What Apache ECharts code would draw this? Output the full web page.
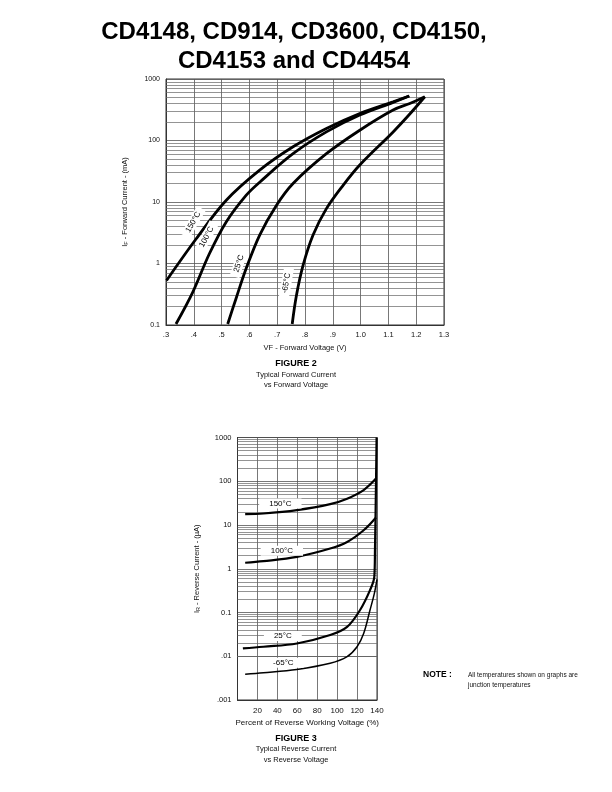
<!DOCTYPE html>
<html><head><meta charset="utf-8">
<script src="https://cdn.jsdelivr.net/npm/echarts@6/dist/echarts.min.js"></script>
<style>html,body{margin:0;padding:0;background:#fff}#c{width:612px;height:792px}</style>
</head><body><div id="c"></div>
<script>
// ---------- Figure 2 : forward current vs forward voltage ----------
const fwdXTicks = ['.3','.4','.5','.6','.7','.8','.9','1.0','1.1','1.2','1.3'];
const fwdYTicks = ['0.1','1','10','100','1000'];
const fwdDecades = [0.1, 1, 10, 100];
const fwd150 = [[0.302,0.53],[0.408,2.5],[0.516,10.6],[0.637,33],[0.757,79],[0.877,157],[0.997,275],[1.117,427],[1.175,530]];
const fwd100 = [[0.336,0.104],[0.396,0.34],[0.456,1.44],[0.516,4.7],[0.588,12.8],[0.637,21],[0.757,61],[0.877,138],[0.997,259],[1.117,417],[1.175,530]];
const fwd25  = [[0.522,0.104],[0.552,0.27],[0.588,0.82],[0.637,2.9],[0.697,8.8],[0.757,20],[0.877,61],[0.997,147],[1.117,313],[1.177,400],[1.231,515]];
const fwdM65 = [[0.754,0.104],[0.769,0.30],[0.793,0.93],[0.829,2.9],[0.877,7.8],[0.937,18.7],[0.997,40],[1.117,138],[1.177,270],[1.231,515]];
const fwdLabels = [['150\u00B0C',0.398,4.7,60],['100\u00B0C',0.446,2.7,62],['25\u00B0C',0.562,1.0,72],['-65\u00B0C',0.733,0.48,80]];

// ---------- Figure 3 : reverse current vs reverse voltage ----------
const revXTicks = ['','20','40','60','80','100','120','140'];
const revYTicks = ['.001','.01','0.1','1','10','100','1000'];
const revDecades = [0.001, 0.01, 0.1, 1, 10, 100];
const rev150 = [[7.7,17.7],[26,18.3],[59.6,21.9],[93,30],[110,40],[126.6,63],[139,115]];
const rev100 = [[7.7,1.37],[26,1.49],[59.6,1.87],[93,2.9],[110,4.1],[126.6,7.6],[139,14.9]];
const rev25  = [[5.4,0.0151],[26,0.0165],[59.6,0.0196],[93,0.0305],[110,0.047],[123,0.114],[133,0.325],[137.3,0.65],[138,3],[138.7,30],[139.3,300],[139.6,1000]];
const revM65 = [[7.7,0.0039],[26,0.0042],[59.6,0.005],[93,0.0069],[110,0.0098],[120,0.0165],[126.6,0.033],[133,0.114],[137.3,0.27],[140,0.57]];
const revLabels = [['150\u00B0C',43,31],['100\u00B0C',44.5,2.57],['25\u00B0C',45.5,0.0289],['-65\u00B0C',46,0.0071]];

const FONT = '"Liberation Sans", Arial, sans-serif';
function minors(decades){ const out=[]; decades.forEach(d=>{ for(let k=2;k<=9;k++) out.push({yAxis: +(d*k).toPrecision(3)}); }); return out; }
function decadeLabel(ticks, minExp){ return v => { const i = Math.round(Math.log10(v)) - minExp; return ticks[i] !== undefined ? ticks[i] : ''; }; }

const chart = echarts.init(document.getElementById('c'), null, {renderer:'canvas'});
const gridLineStyle = {color:'#555', width:0.8};
const markGrid = (decades) => ({silent:true, symbol:'none', animation:false, label:{show:false}, lineStyle:{color:'#666', width:0.7, type:'solid'}, emphasis:{disabled:true}, data: minors(decades)});

function curve(name, data, xi, width, withGrid, decades){
  const s = {name, type:'line', xAxisIndex:xi, yAxisIndex:xi, data, smooth:0.35, showSymbol:false, symbol:'none', animation:false, silent:true, z:5,
    lineStyle:{color:'#000', width}};
  if (withGrid) s.markLine = markGrid(decades);
  return s;
}
function labelSeries(xi, items, fontSize){
  return {type:'scatter', xAxisIndex:xi, yAxisIndex:xi, symbolSize:0, animation:false, silent:true, z:10,
    itemStyle:{opacity:1},
    data: items.map(it => ({value:[it[1], it[2]], label:{show:true, position:'inside', formatter: it[0], rotate: it[3]||0,
      backgroundColor:'#fff', padding: xi===0 ? [1,5] : [1,10], color:'#000', fontSize, fontFamily: FONT}}))};
}

const option = {
  backgroundColor:'#fff',
  animation:false,
  textStyle:{fontFamily: FONT},
  grid:[
    {left:166, top:79, width:278, height:246, show:true, borderColor:'#333', borderWidth:1, backgroundColor:'transparent'},
    {left:237.5, top:437.5, width:139.5, height:262.5, show:true, borderColor:'#333', borderWidth:1, backgroundColor:'transparent'}
  ],
  xAxis:[
    {type:'value', gridIndex:0, min:0.3, max:1.3, interval:0.1,
      axisLine:{show:true, lineStyle:{color:'#333'}}, axisTick:{show:false},
      splitLine:{show:true, lineStyle:gridLineStyle},
      axisLabel:{fontSize:7.5, color:'#111', margin:6, formatter: v => fwdXTicks[Math.round((v-0.3)*10)]},
      name:'VF - Forward Voltage (V)', nameLocation:'middle', nameGap:19, nameTextStyle:{fontSize:7.5, color:'#111'}},
    {type:'value', gridIndex:1, min:0, max:140, interval:20,
      axisLine:{show:true, lineStyle:{color:'#333'}}, axisTick:{show:false},
      splitLine:{show:true, lineStyle:gridLineStyle},
      axisLabel:{fontSize:8, color:'#111', margin:7, formatter: v => revXTicks[Math.round(v/20)]},
      name:'Percent of Reverse Working Voltage (%)', nameLocation:'middle', nameGap:19, nameTextStyle:{fontSize:8, color:'#111'}}
  ],
  yAxis:[
    {type:'log', gridIndex:0, logBase:10, min:0.1, max:1000,
      axisLine:{show:true, lineStyle:{color:'#333'}}, axisTick:{show:false},
      splitLine:{show:true, lineStyle:gridLineStyle},
      axisLabel:{fontSize:7, color:'#111', margin:6, formatter: decadeLabel(fwdYTicks, -1)},
      name:'{a|I}{s|F}{a| - Forward Current - (mA)}', nameLocation:'middle', nameGap:37,
      nameTextStyle:{rich:{a:{fontSize:7.5, color:'#111', fontFamily:FONT}, s:{fontSize:5.5, color:'#111', fontFamily:FONT, verticalAlign:'bottom', padding:[3,0,0,0]}}}},
    {type:'log', gridIndex:1, logBase:10, min:0.001, max:1000,
      axisLine:{show:true, lineStyle:{color:'#333'}}, axisTick:{show:false},
      splitLine:{show:true, lineStyle:gridLineStyle},
      axisLabel:{fontSize:7.5, color:'#111', margin:6, formatter: decadeLabel(revYTicks, -3)},
      name:'{a|I}{s|R}{a| - Reverse Current - (\u00B5A)}', nameLocation:'middle', nameGap:36,
      nameTextStyle:{rich:{a:{fontSize:7.5, color:'#111', fontFamily:FONT}, s:{fontSize:5.5, color:'#111', fontFamily:FONT, verticalAlign:'bottom', padding:[3,0,0,0]}}}}
  ],
  series:[
    curve('150C', fwd150, 0, 2.8, true, fwdDecades),
    curve('100C', fwd100, 0, 2.8, false),
    curve('25C', fwd25, 0, 2.8, false),
    curve('-65C', fwdM65, 0, 2.8, false),
    labelSeries(0, fwdLabels, 8),
    curve('150C r', rev150, 1, 2.2, true, revDecades),
    curve('100C r', rev100, 1, 2.2, false),
    curve('25C r', rev25, 1, 2.2, false),
    curve('-65C r', revM65, 1, 1.5, false),
    labelSeries(1, revLabels, 8)
  ],
  graphic:[
    {type:'text', x:294, y:32, style:{text:'CD4148, CD914, CD3600, CD4150,', align:'center', verticalAlign:'middle', textAlign:'center', textVerticalAlign:'middle', font:'bold 24px '+FONT, fill:'#000'}},
    {type:'text', x:294, y:61, style:{text:'CD4153 and CD4454', align:'center', verticalAlign:'middle', textAlign:'center', textVerticalAlign:'middle', font:'bold 24px '+FONT, fill:'#000'}},
    {type:'text', x:296, y:364, style:{text:'FIGURE 2', align:'center', verticalAlign:'middle', textAlign:'center', textVerticalAlign:'middle', font:'bold 9px "Liberation Sans Narrow", '+FONT, fill:'#000'}},
    {type:'text', x:296, y:375, style:{text:'Typical Forward Current', align:'center', verticalAlign:'middle', textAlign:'center', textVerticalAlign:'middle', font:'7.5px '+FONT, fill:'#111'}},
    {type:'text', x:296, y:385, style:{text:'vs Forward Voltage', align:'center', verticalAlign:'middle', textAlign:'center', textVerticalAlign:'middle', font:'7.5px '+FONT, fill:'#111'}},
    {type:'text', x:296, y:739, style:{text:'FIGURE 3', align:'center', verticalAlign:'middle', textAlign:'center', textVerticalAlign:'middle', font:'bold 9px "Liberation Sans Narrow", '+FONT, fill:'#000'}},
    {type:'text', x:296, y:749, style:{text:'Typical Reverse Current', align:'center', verticalAlign:'middle', textAlign:'center', textVerticalAlign:'middle', font:'7.5px '+FONT, fill:'#111'}},
    {type:'text', x:296, y:760, style:{text:'vs Reverse Voltage', align:'center', verticalAlign:'middle', textAlign:'center', textVerticalAlign:'middle', font:'7.5px '+FONT, fill:'#111'}},
    {type:'text', x:423, y:675, style:{text:'NOTE :', align:'left', verticalAlign:'middle', textAlign:'left', textVerticalAlign:'middle', font:'bold 8.5px "Liberation Sans Narrow", '+FONT, fill:'#000'}},
    {type:'text', x:468, y:675, style:{text:'All temperatures shown on graphs are', align:'left', verticalAlign:'middle', textAlign:'left', textVerticalAlign:'middle', font:'6.5px '+FONT, fill:'#111'}},
    {type:'text', x:468, y:685, style:{text:'junction temperatures', align:'left', verticalAlign:'middle', textAlign:'left', textVerticalAlign:'middle', font:'6.5px '+FONT, fill:'#111'}}
  ]
};
chart.setOption(option);
</script></body></html>
